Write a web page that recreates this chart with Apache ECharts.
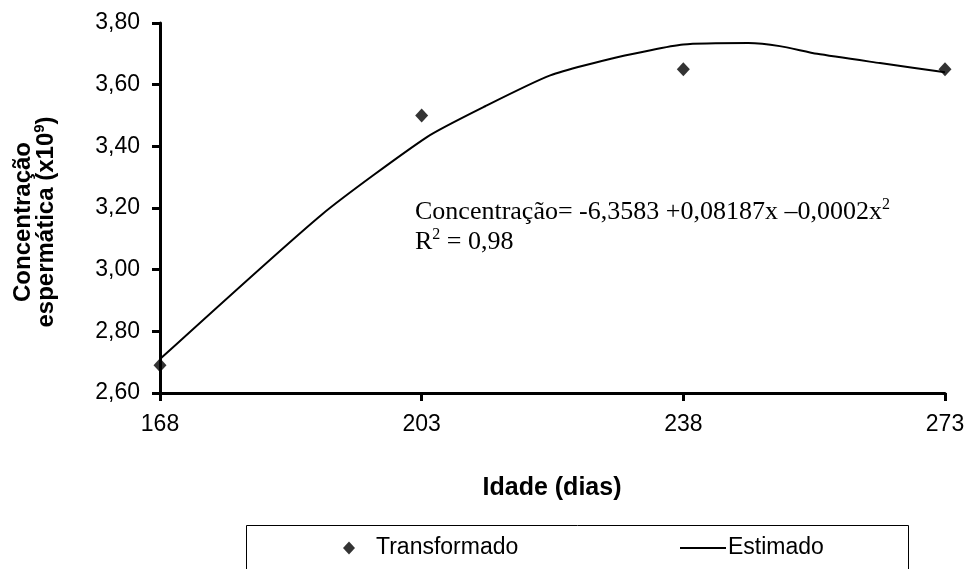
<!DOCTYPE html>
<html>
<head>
<meta charset="utf-8">
<script src="https://cdn.jsdelivr.net/npm/echarts@6/dist/echarts.min.js"></script>
<style>
html,body{margin:0;padding:0;background:#fff;}
#chart{width:969px;height:569px;}
</style>
</head>
<body>
<div id="chart"></div>
<script>
// Observed (Transformado)
const obsDays = [168, 203, 238, 273];
const obsValues = [2.69, 3.50, 3.65, 3.65];
// Estimated curve (Estimado)
const estDays = [168, 189.7, 203.7, 211.5, 220.2, 229.3, 238, 246.7, 250.9, 255.9, 264.3, 273];
const estValues = [2.71, 3.18, 3.43, 3.53, 3.63, 3.69, 3.73, 3.735, 3.725, 3.70, 3.67, 3.64];
// Axis ticks
const xTicks = [168, 203, 238, 273];
const yMin = 2.6, yMax = 3.8, yStep = 0.2;

const chart = echarts.init(document.getElementById('chart'), null, {renderer: 'canvas'});
const sans = 'Liberation Sans, Arial, sans-serif';
const serif = 'Liberation Serif, Times New Roman, serif';

const option = {
  backgroundColor: '#fff',
  animation: false,
  grid: {left: 160, right: 24, top: 23, bottom: 176, containLabel: false},
  xAxis: {
    type: 'value', min: 168, max: 273,
    axisLine: {show: true, onZero: false, lineStyle: {color: '#000', width: 3}},
    axisTick: {show: true, inside: false, length: 8, lineStyle: {color: '#000', width: 3}, customValues: xTicks},
    axisLabel: {customValues: xTicks, color: '#000', fontFamily: sans, fontSize: 23, margin: 20},
    splitLine: {show: false}
  },
  yAxis: {
    type: 'value', min: yMin, max: yMax, interval: yStep,
    axisLine: {show: true, lineStyle: {color: '#000', width: 3}},
    axisTick: {show: true, length: 8, lineStyle: {color: '#000', width: 3}},
    axisLabel: {color: '#000', fontFamily: sans, fontSize: 23, margin: 20,
      formatter: v => v.toFixed(2).replace('.', ',')},
    splitLine: {show: false}
  },
  legend: [
    {
      data: [{name: 'Transformado', icon: 'diamond'}],
      left: 343, top: 536, padding: 0,
      itemWidth: 12, itemHeight: 13, selectedMode: false,
      textStyle: {color: '#000', fontFamily: sans, fontSize: 23, lineHeight: 24, padding: [0, 0, 0, 16]}
    },
    {
      data: [{name: 'Estimado', icon: 'rect'}],
      left: 680, top: 536, padding: 0,
      itemWidth: 46, itemHeight: 2, selectedMode: false,
      itemStyle: {color: '#000'},
      textStyle: {color: '#000', fontFamily: sans, fontSize: 23, lineHeight: 24, padding: [0, 0, 0, -3]}
    }
  ],
  series: [
    {
      name: 'Estimado', type: 'line',
      data: estDays.map((d, i) => [d, estValues[i]]),
      symbol: 'none', smooth: 0.2,
      lineStyle: {color: '#000', width: 2},
      itemStyle: {color: '#000'},
      z: 2
    },
    {
      name: 'Transformado', type: 'scatter',
      data: obsDays.map((d, i) => [d, obsValues[i]]),
      symbol: 'diamond', symbolSize: [13, 14],
      itemStyle: {color: '#000'},
      z: 3
    }
  ],
  graphic: [
    {
      type: 'text', x: 35, y: 222, rotation: Math.PI / 2,
      style: {
        text: '{b|Concentração}\n{b|espermática (x10}{s|9}{b|)}',
        align: 'center', verticalAlign: 'middle',
        fill: '#000',
        rich: {
          b: {fontFamily: sans, fontWeight: 'bold', fontSize: 24, lineHeight: 23, fill: '#000'},
          s: {fontFamily: sans, fontWeight: 'bold', fontSize: 15, lineHeight: 23, padding: [0, 0, 14, 0], fill: '#000'}
        }
      }
    },
    {
      type: 'text', x: 552, y: 488,
      style: {
        text: 'Idade (dias)', align: 'center', verticalAlign: 'middle',
        fill: '#000', font: 'bold 25px ' + sans
      }
    },
    {
      type: 'text', x: 415, y: 197,
      style: {
        text: '{t|Concentração= -6,3583 +0,08187x –0,0002x}{s|2}\n{t|R}{s|2}{t| = 0,98}',
        align: 'left', verticalAlign: 'top', fill: '#000',
        rich: {
          t: {fontFamily: serif, fontSize: 26, lineHeight: 30, fill: '#000'},
          s: {fontFamily: serif, fontSize: 16, lineHeight: 30, verticalAlign: 'top', padding: [0, 0, 10, 0], fill: '#000'}
        }
      }
    },
    {
      type: 'rect', shape: {x: 246.5, y: 525.5, width: 662, height: 60},
      style: {fill: 'none', stroke: '#000', lineWidth: 1}, z: -1
    }
  ]
};
chart.setOption(option);
</script>
</body>
</html>
